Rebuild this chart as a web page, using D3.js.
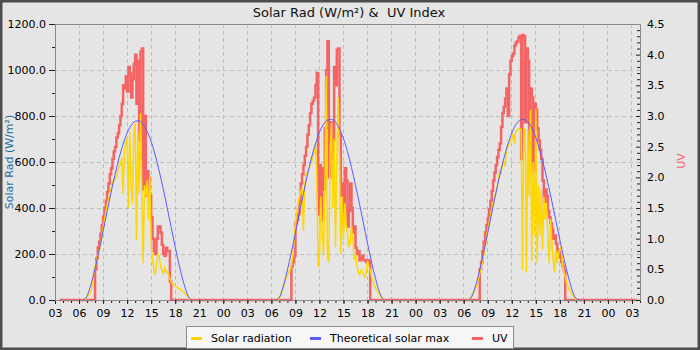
<!DOCTYPE html>
<html><head><meta charset="utf-8">
<script src="https://cdn.jsdelivr.net/npm/d3@7"></script>
<style>body{margin:0;background:#fff} svg{display:block} text{font-family:"DejaVu Sans",sans-serif}</style>
</head><body>
<svg id="c" width="700" height="350"></svg>
<script>
// ---- data (3 days, day index 0..2; times in minutes after midnight) ----
const titleText = "Solar Rad (W/m²) &  UV Index";
const seriesNames = ["Solar radiation", "Theoretical solar max", "UV"];
const leftTicks = [0, 200, 400, 600, 800, 1000, 1200];
const rightTicks = [0, 0.5, 1, 1.5, 2, 2.5, 3, 3.5, 4, 4.5];
const uvRange = [[0, 215], [3, 215]];          // UV record start / end (day, minute), value 0
const stepMin = 10;                              // sample step for solar & UV
const theoStep = 30;                             // sample step for theoretical max

const solarStart = [400, 400, 390];
const solarDay1 = [0,5,12,20,28,40,70,110,145,165,190,210,240,275,310,345,380,410,440,470,480,510,520,525,535,560,580,590,620,460,650,690,700,400,735,500,420,720,770,260,730,460,810,480,160,500,450,520,350,540,240,175,130,115,150,200,190,150,130,115,140,120,125,110,90,80,70,66,60,56,52,48,45,40,36,30,24,18,10,0];
const solarDay2 = [0,3,10,20,35,55,75,95,110,120,130,150,190,260,330,380,420,450,470,490,300,500,540,555,570,585,600,620,640,680,560,145,190,450,300,200,450,975,180,170,640,770,400,700,230,600,880,620,200,450,260,420,320,290,230,250,320,260,175,200,150,120,110,130,125,110,100,120,170,145,130,100,85,65,52,42,32,22,14,6,0];
const solarDay3 = [0,3,10,20,30,40,52,70,90,115,140,170,200,230,265,300,335,365,390,420,440,465,480,530,560,550,590,600,580,650,665,680,690,700,725,680,735,740,745,745,740,130,745,740,120,740,450,826,170,600,280,830,160,500,280,480,220,450,350,420,275,160,350,250,170,120,220,160,200,220,230,160,120,100,75,60,45,35,25,18,10,4,0];

const theoStart = [390, 390, 390];
const theoDay1 = [0,18,69,137,215,298,384,468,547,618,678,726,759,777,779,764,734,689,631,561,484,401,316,231,151,82,27,0];
const theoDay2 = [0,12,62,130,208,292,378,463,544,617,679,729,764,782,785,773,745,702,645,576,499,417,332,246,165,93,33,0];
const theoDay3 = [0,14,64,131,209,292,378,462,542,614,676,726,762,781,785,774,748,706,651,584,509,429,346,262,181,109,46,8,0];

const uvStart = [470, 490, 470];
const uvDay1 = [0,0.5,0.68,0.85,0.95,1.08,1.22,1.36,1.5,1.62,1.76,1.9,2.05,2.15,2.3,2.42,2.5,2.65,2.72,2.85,3.0,3.2,3.5,3.45,3.65,3.4,3.8,3.7,3.3,3.6,3.85,4.0,3.2,3.9,2.6,4.05,4.1,1.8,3.0,1.7,2.1,2.0,1.7,1.35,1.0,0.8,0.75,1.0,1.2,1.2,1.1,0.9,0.75,0.72,0.85,0.8,0.8,0.3,0];
const uvDay2 = [0,0,0.55,0.62,0.72,1.25,1.3,1.4,1.6,1.9,2.05,2.2,2.35,2.5,2.7,2.85,3.05,3.2,3.25,3.3,3.5,3.7,1.4,2.2,1.3,2.15,1.8,2.8,3.75,4.22,2.0,2.9,2.3,2.6,3.8,3.5,4.08,4.1,2.7,1.7,1.9,1.4,2.15,1.95,1.2,1.45,1.9,1.5,1.1,1.2,0.85,0.75,0.8,0.65,0.68,0.72,0.65,0.65,0.62,0.65,0.63,0];
const uvDay3 = [0,0.5,0.62,0.8,0.95,1.1,1.22,1.33,1.48,1.62,1.78,1.95,2.08,2.2,2.33,2.45,2.55,2.82,3.05,3.15,3.28,3.45,3.0,3.68,3.9,3.98,4.02,4.15,4.2,4.22,4.28,4.31,2.3,4.32,4.3,2.9,4.1,3.9,2.2,3.45,3.3,2.1,3.2,3.1,2.8,2.6,2.45,2.3,1.95,1.6,1.8,1.7,1.45,1.35,1.25,1.15,1.0,1.05,0.92,0.82,0.78,0.7,0.62,0.55,0.48,0];

// ---- helpers ----
const T = (day, min) => new Date(2024, 0, 1 + day, 0, min);
const toPts = (arr, day, start, step) => arr.map((v, i) => [T(day, start + i * step), v]);

const solarDays = [solarDay1, solarDay2, solarDay3].map((a, d) => toPts(a, d, solarStart[d], stepMin));
const theoDays = [theoDay1, theoDay2, theoDay3].map((a, d) => toPts(a, d, theoStart[d], theoStep));
const uvPts = [[T(uvRange[0][0], uvRange[0][1]), 0]]
  .concat(...[uvDay1, uvDay2, uvDay3].map((a, d) => toPts(a, d, uvStart[d], stepMin)))
  .concat([[T(uvRange[1][0], uvRange[1][1]), 0]]);

const colSolar = "#ffd700", colTheo = "#5a5aff", colUV = "#f46464";
const L = 55, R = 640, TOP = 24, B = 300;

const svg = d3.select("#c");
svg.append("rect").attr("x", 1.25).attr("y", 1.25).attr("width", 697.5).attr("height", 347.5)
  .attr("fill", "#e5e5e5").attr("stroke", "#4d4d4d").attr("stroke-width", 2.5);

const x = d3.scaleTime().domain([T(0, 180), T(3, 240)]).range([L, R]);
const yL = d3.scaleLinear().domain([0, 1200]).range([B, TOP]);
const yR = d3.scaleLinear().domain([0, 4.5]).range([B, TOP]);

// grid
const grid = svg.append("g").attr("stroke", "#bdbdbd").attr("stroke-dasharray", "4,3").attr("shape-rendering", "crispEdges");
x.ticks(d3.timeHour.every(3)).filter(t => x(t) > L + 1).forEach(t => {
  grid.append("line").attr("x1", x(t)).attr("x2", x(t)).attr("y1", TOP).attr("y2", B);
});
leftTicks.filter(v => v > 0 && v < 1200).forEach(v => {
  grid.append("line").attr("x1", L).attr("x2", R).attr("y1", yL(v)).attr("y2", yL(v));
});

// series
const lineR = d3.line().x(d => x(d[0])).y(d => yR(d[1])).curve(d3.curveStepAfter);
const lineL = d3.line().x(d => x(d[0])).y(d => yL(d[1]));
const lineT = d3.line().x(d => x(d[0])).y(d => yL(d[1])).curve(d3.curveMonotoneX);

svg.append("path").datum(uvPts).attr("d", lineR).attr("fill", "none")
  .attr("stroke", colUV).attr("stroke-width", 2.5);
solarDays.forEach(p => svg.append("path").datum(p).attr("d", lineL).attr("fill", "none")
  .attr("stroke", colSolar).attr("stroke-width", 1.5));
theoDays.forEach(p => svg.append("path").datum(p).attr("d", lineT).attr("fill", "none")
  .attr("stroke", colTheo).attr("stroke-width", 1));

// axes
function style(g) {
  g.selectAll(".domain").attr("stroke", "#8a8a8a");
  g.selectAll(".tick line").attr("stroke", "#222");
  g.selectAll("text").attr("font-family", "DejaVu Sans").attr("font-size", 11).attr("fill", "#000");
}
svg.append("g").attr("transform", `translate(0,${B})`)
  .call(d3.axisBottom(x).ticks(d3.timeHour.every(1)).tickSize(3).tickSizeOuter(0).tickFormat(""))
  .call(style);
svg.append("g").attr("transform", `translate(0,${B})`)
  .call(d3.axisBottom(x).ticks(d3.timeHour.every(3)).tickFormat(d3.timeFormat("%H")).tickSize(4).tickPadding(5).tickSizeOuter(0))
  .call(style);

svg.append("g").attr("transform", `translate(${L},0)`)
  .call(d3.axisLeft(yL).tickValues(leftTicks.slice(0, -1).map(v => v + 100)).tickSize(3).tickSizeOuter(0).tickFormat(""))
  .call(style);
svg.append("g").attr("transform", `translate(${L},0)`)
  .call(d3.axisLeft(yL).tickValues(leftTicks).tickFormat(d3.format(".1f")).tickSize(6).tickPadding(3).tickSizeOuter(0))
  .call(style);

const minorR = d3.range(0, 46).map(i => i / 10).filter(v => Math.round(v * 10) % 5 !== 0);
svg.append("g").attr("transform", `translate(${R},0)`)
  .call(d3.axisRight(yR).tickValues(minorR).tickSize(-3).tickSizeOuter(0).tickFormat(""))
  .call(style);
svg.append("g").attr("transform", `translate(${R},0)`)
  .call(d3.axisRight(yR).tickValues(rightTicks).tickFormat(d3.format(".1f")).tickSize(-4).tickPadding(7).tickSizeOuter(0))
  .call(style);

svg.append("line").attr("x1", L).attr("x2", R).attr("y1", TOP + 0.5).attr("y2", TOP + 0.5).attr("stroke", "#8a8a8a");

// titles
svg.append("text").attr("x", 349).attr("y", 16.5).attr("text-anchor", "middle")
  .attr("font-size", 13).attr("fill", "#111").style("white-space", "pre").text(titleText);
svg.append("text").attr("transform", "translate(13,162) rotate(-90)").attr("text-anchor", "middle")
  .attr("font-size", 11).attr("fill", "#1f6e9e").text("Solar Rad (W/m²)");
svg.append("text").attr("transform", "translate(685,161) rotate(-90)").attr("text-anchor", "middle")
  .attr("font-size", 11).attr("fill", colUV).text(seriesNames[2]);

// legend
const lg = svg.append("g");
lg.append("rect").attr("x", 186.5).attr("y", 326.5).attr("width", 327).attr("height", 22)
  .attr("fill", "#f6f6f6").attr("stroke", "#8a8a8a");
const items = [
  {name: seriesNames[0], col: colSolar, x1: 191, tx: 211},
  {name: seriesNames[1], col: colTheo, x1: 310, tx: 330},
  {name: seriesNames[2], col: colUV, x1: 472, tx: 492}
];
items.forEach(it => {
  lg.append("line").attr("x1", it.x1).attr("x2", it.x1 + 11).attr("y1", 338.5).attr("y2", 338.5)
    .attr("stroke", it.col).attr("stroke-width", 3);
  lg.append("text").attr("x", it.tx).attr("y", 342).attr("font-size", 11).attr("fill", "#000").text(it.name);
});
</script></body></html>
